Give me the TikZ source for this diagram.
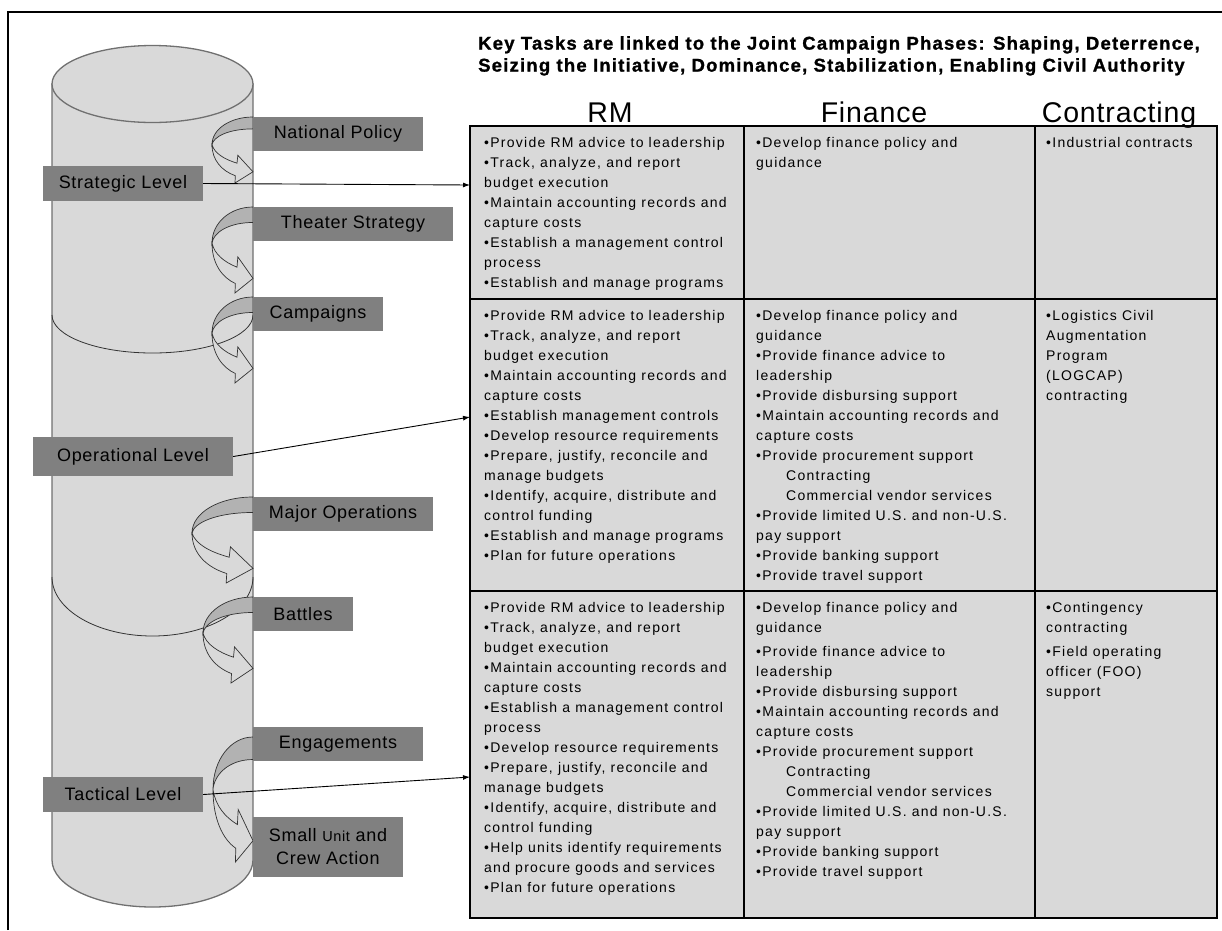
\documentclass[tikz,border=0pt]{standalone}
\usepackage{fontspec}
\setmainfont{Liberation Sans}
\newfontfamily\zellfont[LetterSpace=9]{Liberation Sans}
\newfontfamily\etikettfont[LetterSpace=4]{Liberation Sans}
\newfontfamily\titelfont[LetterSpace=6.5,FakeBold=1.2]{Liberation Sans}
\newfontfamily\kopffont[LetterSpace=3]{Liberation Sans}
\usetikzlibrary{arrows.meta}

\definecolor{zylgrau}{RGB}{217,217,217}
\definecolor{randgrau}{RGB}{112,112,112}
\definecolor{etikettgrau}{RGB}{128,128,128}
\definecolor{bandgrau}{RGB}{178,178,178}

\tikzset{
	etikett/.style={fill=etikettgrau, inner sep=0pt, align=center,
		font=\etikettfont\fontsize{18}{23}\selectfont},
	zelle/.style={anchor=north west, inner sep=0pt, align=left,
		font=\zellfont\fontsize{14}{20}\selectfont},
	kopf/.style={anchor=base, font=\kopffont\fontsize{28.5}{30}\selectfont},
	pfeil/.style={-{Latex[length=7pt,width=5pt]}, line width=0.9pt},
}

\begin{document}
\begin{tikzpicture}[x=1pt, y=-1pt]
	\useasboundingbox (0,0) rectangle (1222,930);
	% Rahmen
	\draw[line width=2pt] (8,930) -- (8,12) -- (1222,12);

	% Zylinder
	\filldraw[fill=zylgrau, draw=randgrau, line width=1.3pt] (52,84) -- (52,860)
	arc (180:0:100.5 and 47) -- (253,84) -- cycle;
	\filldraw[fill=zylgrau, draw=randgrau, line width=1.3pt] (152.5,84) ellipse
	(100.5 and 38.5);
	\draw[line width=0.8pt, draw=black!80] (52,315) arc (180:0:100.5 and 38);
	\draw[line width=0.8pt, draw=black!80] (52,577) arc (180:0:100.5 and 59);

	% gebogene Pfeile
	\foreach \l/\t/\w/\h in {212/117/41/66, 212/207/41/86, 212/297/41/86,
		192/497/61/86, 203/597/50/86, 213/737/40/125} {
		\begin{scope}[shift={(\l,\t)}, xscale=\w, yscale=\h]
			\filldraw[fill=bandgrau, draw=black!80, line width=0.7pt] (1,0)
			.. controls (0.45,0) and (0,0.18) .. (0,0.42)
			.. controls (0.03,0.3) and (0.4,0.18) .. (1,0.18) -- cycle;
			\filldraw[fill=zylgrau, draw=black!80, line width=0.7pt] (0,0.42)
			.. controls (0,0.66) and (0.25,0.82) .. (0.57,0.89) -- (0.56,1)
			-- (1,0.83) -- (0.63,0.58) -- (0.61,0.7)
			.. controls (0.3,0.64) and (0.06,0.55) .. (0,0.42) -- cycle;
		\end{scope}
	}

	% Etiketten rechts
	\node[etikett, minimum width=170pt, minimum height=34pt] (natpol) at (338,134)
	{National Policy};
	\node[etikett, minimum width=200pt, minimum height=34pt] (theater) at (353,224)
	{Theater Strategy};
	\node[etikett, minimum width=130pt, minimum height=34pt] (kampagne) at (318,314)
	{Campaigns};
	\node[etikett, minimum width=180pt, minimum height=34pt] (majorop) at (343,514)
	{Major Operations};
	\node[etikett, minimum width=100pt, minimum height=34pt] (battle) at (303,614)
	{Battles};
	\node[etikett, minimum width=170pt, minimum height=34pt] (engage) at (338,744)
	{Engagements};
	\node[etikett, minimum width=150pt, minimum height=60pt] (smallunit) at (328,847)
	{Small {\fontsize{14.5}{23}\selectfont Unit} and\\Crew Action};

	% Etiketten links
	\node[etikett, minimum width=160pt, minimum height=35pt] (strat) at (123,183.5)
	{Strategic Level};
	\node[etikett, minimum width=200pt, minimum height=39pt] (opera) at (133,456.5)
	{Operational Level};
	\node[etikett, minimum width=160pt, minimum height=35pt] (takt) at (123,794.5)
	{Tactical Level};

	% Titel
	\node[anchor=north west, align=left, inner sep=0pt,
	font=\titelfont\bfseries\fontsize{18.5}{22}\selectfont] (titel) at (478,36)
	{Key Tasks are linked to the Joint Campaign Phases: Shaping, Deterrence,\\
	Seizing the Initiative, Dominance, Stabilization, Enabling Civil Authority};

	% Tabelle
	\foreach \xa/\xb in {470/744, 744/1035, 1035/1217}
		\foreach \ya/\yb in {126/299, 299/591, 591/918}
			\filldraw[fill=zylgrau, draw=black, line width=1.2pt] (\xa,\ya)
			rectangle (\xb,\yb);
	\draw[line width=2.6pt] (470,126) rectangle (1217,918);

	% Spaltenkoepfe
	\node[kopf] (rm) at (610,122) {RM};
	\node[kopf] (finanz) at (874,122) {Finance};
	\node[kopf] (vertrag) at (1119,122) {Contracting};

	% Zeile 1
	\node[zelle] (rmA) at (484,137) {%
		•Provide RM advice to leadership\\•Track, analyze, and report\\
		budget execution\\•Maintain accounting records and\\capture costs\\
		•Establish a management control\\process\\•Establish and manage programs};
	\node[zelle] (finA) at (756,137) {•Develop finance policy and\\guidance};
	\node[zelle] (conA) at (1046,137) {•Industrial contracts};

	% Zeile 2
	\node[zelle] (rmB) at (484,310) {%
		•Provide RM advice to leadership\\•Track, analyze, and report\\
		budget execution\\•Maintain accounting records and\\capture costs\\
		•Establish management controls\\•Develop resource requirements\\
		•Prepare, justify, reconcile and\\manage budgets\\
		•Identify, acquire, distribute and\\control funding\\
		•Establish and manage programs\\•Plan for future operations};
	\node[zelle] (finB) at (756,310) {%
		•Develop finance policy and\\guidance\\•Provide finance advice to\\
		leadership\\•Provide disbursing support\\
		•Maintain accounting records and\\capture costs\\
		•Provide procurement support\\\hspace*{30pt}Contracting\\
		\hspace*{30pt}Commercial vendor services\\
		•Provide limited U.S. and non-U.S.\\pay support\\
		•Provide banking support\\•Provide travel support};
	\node[zelle] (conB) at (1046,310) {%
		•Logistics Civil\\Augmentation\\Program\\(LOGCAP)\\contracting};

	% Zeile 3
	\node[zelle] (rmC) at (484,602) {%
		•Provide RM advice to leadership\\•Track, analyze, and report\\
		budget execution\\•Maintain accounting records and\\capture costs\\
		•Establish a management control\\process\\
		•Develop resource requirements\\•Prepare, justify, reconcile and\\
		manage budgets\\•Identify, acquire, distribute and\\control funding\\
		•Help units identify requirements\\and procure goods and services\\
		•Plan for future operations};
	\node[zelle] (finC) at (756,602) {%
		•Develop finance policy and\\guidance\\[4pt]•Provide finance advice to\\
		leadership\\•Provide disbursing support\\
		•Maintain accounting records and\\capture costs\\
		•Provide procurement support\\\hspace*{30pt}Contracting\\
		\hspace*{30pt}Commercial vendor services\\
		•Provide limited U.S. and non-U.S.\\pay support\\
		•Provide banking support\\•Provide travel support};
	\node[zelle] (conC) at (1046,602) {%
		•Contingency\\contracting\\[4pt]•Field operating\\officer (FOO)\\support};

	% Verbindungen
	\coordinate (zeileA) at (470,185);
	\coordinate (zeileB) at (470,417);
	\coordinate (zeileC) at (470,777);
	\draw[pfeil] (strat.east) -- (zeileA);
	\draw[pfeil] (opera.east) -- (zeileB);
	\draw[pfeil] (takt.east) -- (zeileC);
\end{tikzpicture}
\end{document}
